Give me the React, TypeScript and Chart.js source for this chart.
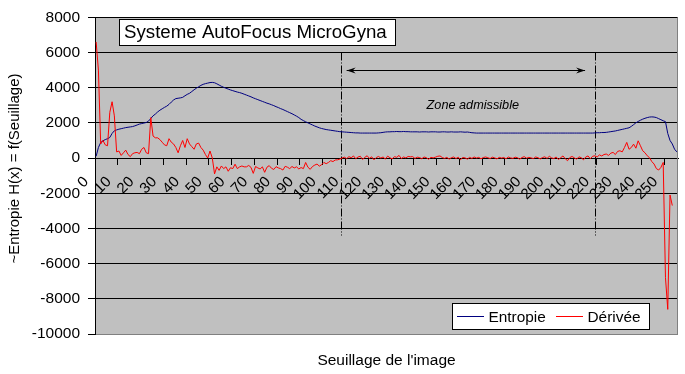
import React, { useEffect, useRef } from 'react';
import { Chart, registerables } from 'chart.js';

Chart.register(...registerables);

// ---- Data ----
const categories: string[] = Array.from({ length: 256 }, (_, i) => String(i));
const xTickLabels = ['0', '10', '20', '30', '40', '50', '60', '70', '80', '90', '100', '110', '120', '130', '140', '150', '160', '170', '180', '190', '200', '210', '220', '230', '240', '250'];
const yMin = -10000;
const yMax = 8000;
const yStep = 2000;

const entropie = [
  100, 600, 880, 980, 1050, 1100, 1170, 1400, 1550, 1600,
  1640, 1670, 1700, 1730, 1750, 1770, 1790, 1830, 1880, 1930,
  1960, 1990, 2020, 2100, 2250, 2400, 2500, 2620, 2720, 2800,
  2880, 2950, 3050, 3180, 3300, 3380, 3400, 3420, 3450, 3540,
  3620, 3680, 3780, 3880, 3970, 4050, 4130, 4190, 4230, 4260,
  4290, 4300, 4280, 4220, 4150, 4080, 4020, 3970, 3920, 3870,
  3830, 3790, 3750, 3720, 3680, 3630, 3580, 3530, 3480, 3420,
  3370, 3320, 3270, 3220, 3170, 3120, 3080, 3030, 2980, 2920,
  2870, 2810, 2760, 2700, 2640, 2580, 2520, 2450, 2380, 2300,
  2200, 2130, 2060, 2000, 1940, 1880, 1820, 1770, 1720, 1680,
  1650, 1620, 1600, 1580, 1560, 1540, 1520, 1500, 1490, 1480,
  1470, 1460, 1450, 1440, 1430, 1430, 1420, 1420, 1420, 1420,
  1420, 1420, 1420, 1420, 1430, 1440, 1460, 1480, 1490, 1490,
  1500, 1500, 1510, 1500, 1500, 1510, 1500, 1500, 1490, 1490,
  1490, 1490, 1480, 1490, 1490, 1490, 1480, 1490, 1490, 1490,
  1480, 1480, 1490, 1490, 1480, 1480, 1490, 1480, 1480, 1480,
  1490, 1480, 1470, 1480, 1460, 1440, 1430, 1420, 1420, 1420,
  1420, 1420, 1420, 1420, 1420, 1420, 1420, 1420, 1420, 1420,
  1420, 1420, 1420, 1420, 1420, 1420, 1420, 1420, 1420, 1420,
  1420, 1420, 1420, 1420, 1420, 1420, 1420, 1420, 1420, 1420,
  1420, 1420, 1420, 1420, 1420, 1420, 1420, 1420, 1420, 1420,
  1420, 1420, 1420, 1420, 1420, 1420, 1420, 1420, 1420, 1430,
  1440, 1440, 1450, 1450, 1460, 1480, 1500, 1520, 1540, 1570,
  1600, 1630, 1660, 1690, 1720, 1800, 1900, 2000, 2080, 2150,
  2210, 2260, 2300, 2330, 2340, 2330, 2300, 2240, 2180, 2120,
  2070, 1400, 1000, 800, 500, 350,
];

const derivee = [
  6600, 5000, 800, 1000, 750, 700, 2600, 3200, 2400, 350,
  400, 150, 300, 450, 200, 80, 250, 300, 320, 250,
  500, 600, 300, 250, 2300, 1250, 1150, 1150, 1050, 900,
  750, 700, 1100, 900, 800, 600, 300, 700, 1000, 600,
  1100, 800, 650, 500, 800, 850, 600, 450, 200, 0,
  400, 0, -900, -500, -700, -450, -600, -500, -750, -550,
  -600, -350, -600, -500, -450, -500, -500, -420, -530, -870,
  -480, -560, -620, -500, -810, -520, -430, -580, -650, -490,
  -560, -600, -680, -470, -520, -600, -480, -560, -500, -620,
  -540, -600, -250, -520, -640, -480, -400, -340, -460, -380,
  -250, -320, -250, -150, -200, -110, -100, -60, 0, 50,
  -30, 80, 20, 120, -40, 60, 100, -80, 40, 130,
  -20, 70, -100, 30, 90, 0, 60, -60, 110, 20,
  -50, 80, 40, 150, -30, 60, 10, 90, 70, 80,
  -20, 50, 30, -40, 60, 20, -70, 40, 10, 50,
  100, 120, 30, -20, 40, -60, 20, 60, -30, 50,
  -90, 30, 10, -60, 40, -20, 60, 0, 40, -40,
  30, 60, 20, -30, 50, 10, -50, 40, 0, 30,
  -40, 60, 10, -20, 50, 20, -60, 30, 80, -10,
  40, 10, -30, 60, 20, -50, 30, 70, -20, 100,
  10, -30, 60, -80, 20, 120, -40, -150, 30, 90,
  10, -60, 70, 20, -100, 60, 120, -40, 100, 130,
  60, 180, 120, 200, 230, 150, 280, 320, 200, 380,
  415, 350, 600, 890, 500, 600, 790, 560, 980, 700,
  415, 300, 130, 20, -200, -340, -600, -680, -530, -250,
  -6800, -8600, -2100, -2700,
];

// Annotation values (in category / data units)
const zoneBounds = [107.7, 219];
const zoneLineRange = [6000, -4400];
const arrowRange = [110, 214.7];
const arrowValue = 5000;
const zoneLabel = { text: 'Zone admissible', x: 165.4, y: 3000 };
const chartTitle = 'Systeme AutoFocus MicroGyna';
const yTitle = '~Entropie H(x) = f(Seuillage)';
const xTitle = "Seuillage de l'image";
const seriesNames = ['Entropie', 'Dérivée'];
const seriesColors = ['#000080', '#FF0000'];

const FONT = "'Liberation Sans', Arial, sans-serif";

const decorPlugin = {
  id: 'decor',
  beforeDraw(chart: any) {
    const { ctx, chartArea: a } = chart;
    ctx.save();
    ctx.fillStyle = '#FFFFFF';
    ctx.fillRect(0, 0, chart.width, chart.height);
    ctx.fillStyle = '#C0C0C0';
    ctx.fillRect(a.left, a.top, a.right - a.left, a.bottom - a.top);
    ctx.restore();
  },
  beforeDatasetsDraw(chart: any) {
    const { ctx, scales } = chart;
    const xs = scales.x;
    const ys = scales.y;
    ctx.save();
    // dash-dot zone lines
    ctx.strokeStyle = '#000';
    ctx.lineWidth = 1;
    ctx.setLineDash([8, 2, 1, 2]);
    zoneBounds.forEach((b) => {
      const px = Math.round(xs.getPixelForValue(b)) + 0.5;
      ctx.beginPath();
      ctx.moveTo(px, ys.getPixelForValue(zoneLineRange[0]));
      ctx.lineTo(px, ys.getPixelForValue(zoneLineRange[1]));
      ctx.stroke();
    });
    ctx.setLineDash([]);
    // double arrow
    const ay = Math.round(ys.getPixelForValue(arrowValue)) + 0.5;
    const ax1 = xs.getPixelForValue(arrowRange[0]);
    const ax2 = xs.getPixelForValue(arrowRange[1]);
    ctx.beginPath();
    ctx.moveTo(ax1, ay);
    ctx.lineTo(ax2, ay);
    ctx.stroke();
    ctx.fillStyle = '#000';
    ctx.beginPath();
    ctx.moveTo(ax1, ay);
    ctx.lineTo(ax1 + 9, ay - 3);
    ctx.lineTo(ax1 + 6, ay);
    ctx.lineTo(ax1 + 9, ay + 3);
    ctx.closePath();
    ctx.fill();
    ctx.beginPath();
    ctx.moveTo(ax2, ay);
    ctx.lineTo(ax2 - 9, ay - 3);
    ctx.lineTo(ax2 - 6, ay);
    ctx.lineTo(ax2 - 9, ay + 3);
    ctx.closePath();
    ctx.fill();
    // zone label
    ctx.font = `italic 12.7px ${FONT}`;
    ctx.textAlign = 'center';
    ctx.textBaseline = 'middle';
    ctx.fillText(zoneLabel.text, xs.getPixelForValue(zoneLabel.x), ys.getPixelForValue(zoneLabel.y));
    ctx.restore();
  },
  afterDraw(chart: any) {
    const { ctx, chartArea: a } = chart;
    ctx.save();
    // grey right border
    ctx.strokeStyle = '#808080';
    ctx.lineWidth = 1;
    ctx.beginPath();
    ctx.moveTo(a.right - 0.5, a.top);
    ctx.lineTo(a.right - 0.5, a.bottom);
    ctx.stroke();

    // title box
    ctx.fillStyle = '#FFFFFF';
    ctx.fillRect(119, 19, 277, 27);
    ctx.strokeStyle = '#000';
    ctx.strokeRect(119.5, 19.5, 276, 26);
    ctx.fillStyle = '#000';
    ctx.font = `18.7px ${FONT}`;
    ctx.textAlign = 'left';
    ctx.textBaseline = 'alphabetic';
    ctx.fillText(chartTitle, 124, 38);

    // legend box
    ctx.fillStyle = '#FFFFFF';
    ctx.fillRect(452, 303, 198, 27);
    ctx.strokeStyle = '#000';
    ctx.strokeRect(452.5, 303.5, 197, 26);
    ctx.lineWidth = 1;
    const ly = 316.5;
    const entries = [
      { x1: 457, x2: 484, tx: 488.5 },
      { x1: 556, x2: 583, tx: 587.5 },
    ];
    ctx.font = `15.4px ${FONT}`;
    entries.forEach((e, i) => {
      ctx.strokeStyle = seriesColors[i];
      ctx.beginPath();
      ctx.moveTo(e.x1, ly);
      ctx.lineTo(e.x2, ly);
      ctx.stroke();
      ctx.fillStyle = '#000';
      ctx.fillText(seriesNames[i], e.tx, 322);
    });

    // y title
    ctx.translate(18.5, 168.5);
    ctx.rotate(-Math.PI / 2);
    ctx.textAlign = 'center';
    ctx.font = `15px ${FONT}`;
    ctx.fillStyle = '#000';
    ctx.fillText(yTitle, 0, 0);
    ctx.restore();
  },
};

export default function App() {
  const canvasRef = useRef<HTMLCanvasElement | null>(null);

  useEffect(() => {
    if (!canvasRef.current) return;
    const chart = new Chart(canvasRef.current, {
      type: 'line',
      data: {
        labels: categories,
        datasets: [
          {
            label: seriesNames[1],
            data: derivee,
            borderColor: seriesColors[1],
            backgroundColor: seriesColors[1],
            borderWidth: 1,
            pointRadius: 0,
            tension: 0,
            order: 0,
          },
          {
            label: seriesNames[0],
            data: entropie,
            borderColor: seriesColors[0],
            backgroundColor: seriesColors[0],
            borderWidth: 1,
            pointRadius: 0,
            tension: 0,
            order: 1,
          },
        ],
      },
      options: {
        animation: false,
        responsive: false,
        devicePixelRatio: 1,
        events: [],
        layout: { padding: { top: 16, right: 7, bottom: 0, left: 0 } },
        plugins: {
          legend: { display: false },
          tooltip: { enabled: false },
          title: { display: false },
        },
        scales: {
          x: {
            type: 'category',
            position: { y: 0 } as any,
            offset: true,
            grid: {
              offset: true,
              drawOnChartArea: false,
              drawTicks: true,
              tickLength: 6,
              color: (c: any) => (typeof c.index === 'number' && c.index % 10 === 0 ? '#000' : 'rgba(0,0,0,0)'),
            },
            border: { display: true, color: '#000' },
            ticks: {
              autoSkip: false,
              minRotation: 45,
              maxRotation: 45,
              padding: 9,
              labelOffset: -10,
              color: '#000',
              font: { family: FONT, size: 15 },
              callback: (_v: any, i: number) => (i % 10 === 0 && xTickLabels[i / 10] !== undefined ? xTickLabels[i / 10] : ''),
            },
            afterFit: (s: any) => {
              s.height = 0;
              s.paddingLeft = 0;
              s.paddingRight = 0;
            },
          },
          x2: {
            type: 'category',
            position: 'bottom',
            offset: true,
            grid: { display: false },
            border: { display: false },
            ticks: { display: false },
            title: {
              display: true,
              text: xTitle,
              color: '#000',
              font: { family: FONT, size: 15.5 },
              padding: { top: 0, bottom: 4 },
            },
            afterFit: (s: any) => {
              s.height = 40;
              s.paddingLeft = 0;
              s.paddingRight = 0;
            },
          },
          y: {
            type: 'linear',
            position: 'left',
            min: yMin,
            max: yMax,
            ticks: {
              stepSize: yStep,
              color: '#000',
              padding: 8,
              font: { family: FONT, size: 15.5 },
              callback: (v: any) => String(v),
            },
            grid: {
              color: (c: any) => (c.tick && c.tick.value === yMin ? '#808080' : '#000'),
              tickColor: '#000',
              tickLength: 7,
              lineWidth: 1,
            },
            border: { display: true, color: '#000' },
            afterFit: (s: any) => {
              s.width = 95;
            },
          },
        },
      },
      plugins: [decorPlugin],
    });
    return () => chart.destroy();
  }, []);

  return (
    <div style={{ position: 'fixed', left: 0, top: 0, width: 685, height: 374, background: '#fff' }}>
      <canvas ref={canvasRef} width={685} height={374} style={{ width: 685, height: 374, display: 'block' }} />
    </div>
  );
}
